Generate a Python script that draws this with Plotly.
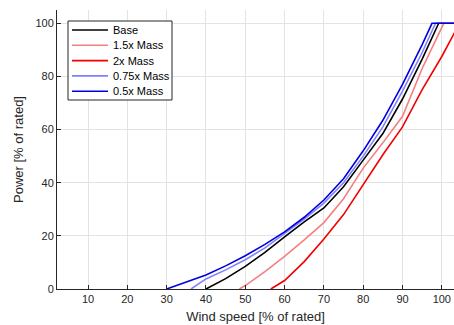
import plotly.graph_objects as go

# wind speed [% of rated] / power [% of rated] per mass case
base_x = [40, 45, 50, 55, 60, 65, 70, 75, 80, 85, 90, 95, 99.2, 110]
base_y = [0, 3.9, 8.5, 13.8, 19.6, 25.3, 30.5, 38.5, 48.5, 58.5, 71.5, 86.5, 100, 100]

m15_x = [48.5, 50, 55, 60, 65, 70, 75, 80, 85, 90, 95, 100.5, 110]
m15_y = [0, 1.3, 6.5, 12.3, 18.5, 25, 34, 45.5, 55, 65, 83, 100, 100]

m2_x = [56.5, 60, 65, 70, 75, 80, 85, 90, 95, 100, 103, 104.5, 110]
m2_y = [0, 3.2, 10.3, 18.8, 28, 39.5, 50.5, 61, 75, 87.5, 95.5, 100, 100]

m075_x = [36.2, 40, 45, 50, 55, 60, 65, 70, 75, 80, 85, 90, 95, 98.4, 110]
m075_y = [0, 3.8, 7.2, 11, 15.5, 20.8, 26.3, 32.3, 40, 50, 61, 74.5, 89, 100, 100]

m05_x = [30, 35, 40, 45, 50, 55, 60, 65, 70, 75, 80, 85, 90, 95, 97.5, 110]
m05_y = [0, 2.6, 5.3, 8.7, 12.5, 16.8, 21.5, 27, 33.5, 41.5, 52, 63.5, 77, 92, 100, 100]

x_ticks = [10, 20, 30, 40, 50, 60, 70, 80, 90, 100]
y_ticks = [0, 20, 40, 60, 80, 100]

series = [
    ("Base", base_x, base_y, "#000000"),
    ("1.5x Mass", m15_x, m15_y, "#f28080"),
    ("2x Mass", m2_x, m2_y, "#f00000"),
    ("0.75x Mass", m075_x, m075_y, "#8080ff"),
    ("0.5x Mass", m05_x, m05_y, "#0000e0"),
]

W, H = 454, 325
L, R, T, B = 57, 0, 10, 36
pw, ph = W - L - R, H - T - B


def px(x):
    return (x - L) / pw


def py(y):
    return (H - B - y) / ph


fig = go.Figure()
for name, xs, ys, col in series:
    fig.add_trace(go.Scatter(x=xs, y=ys, mode="lines", name=name,
                             line=dict(color=col, width=1.6)))

# legend drawn by hand, MATLAB style (tighter rows than plotly's legend)
fig.add_shape(type="rect", xref="paper", yref="paper",
              x0=px(68), x1=px(172), y0=py(100), y1=py(21),
              fillcolor="white", line=dict(color="#262626", width=1), layer="above")
for i, (name, xs, ys, col) in enumerate(series):
    yy = py(30 + i * 15.3)
    fig.add_shape(type="line", xref="paper", yref="paper",
                  x0=px(72), x1=px(108), y0=yy, y1=yy,
                  line=dict(color=col, width=1.6), layer="above")
    fig.add_annotation(xref="paper", yref="paper", x=px(111), y=yy,
                       text=name, showarrow=False, xanchor="left", yanchor="middle",
                       font=dict(family="Liberation Sans, Arial", size=11, color="#000000"))

axis_font = dict(family="Liberation Sans, Arial", size=11, color="#262626")
fig.update_layout(
    width=W,
    height=H,
    plot_bgcolor="white",
    paper_bgcolor="white",
    font=axis_font,
    margin=dict(l=L, r=R, t=T, b=B),
    showlegend=False,
    xaxis=dict(range=[2.1, 103.1], tickvals=x_ticks, ticks="inside", ticklen=4,
               tickcolor="#262626", showline=True, linecolor="#262626", linewidth=1,
               showgrid=True, gridcolor="#e3e3e3", zeroline=False,
               title=dict(text="Wind speed [% of rated]", standoff=7)),
    yaxis=dict(range=[0, 105], tickvals=y_ticks, ticks="inside", ticklen=4,
               tickcolor="#262626", showline=True, linecolor="#262626", linewidth=1,
               showgrid=True, gridcolor="#e3e3e3", zeroline=False,
               title=dict(text="Power [% of rated]", standoff=8)),
)

# drop the default page margin so the figure fills the window exactly
fig.write_html("out.html",
               config={"displayModeBar": False},
               post_script="document.body.style.margin='0';"
                           "document.body.style.overflow='hidden';")
